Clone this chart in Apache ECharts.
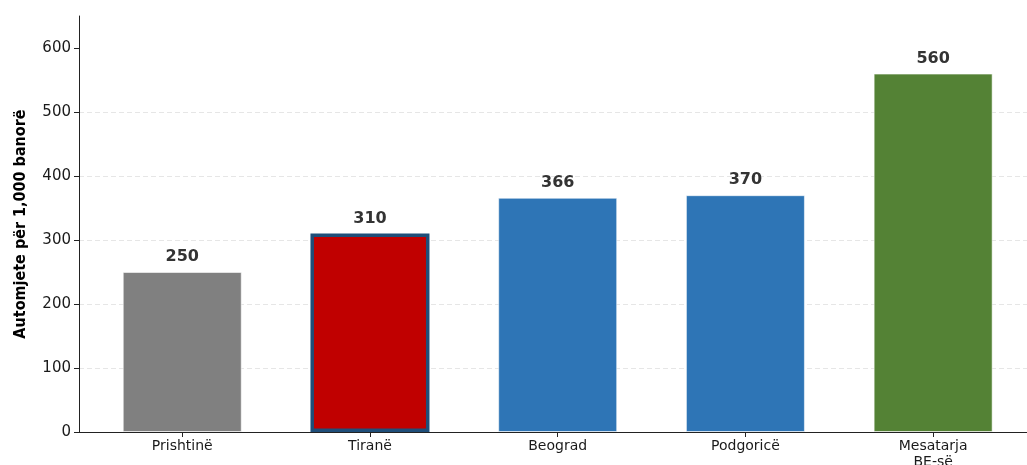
<!DOCTYPE html>
<html>
<head>
<meta charset="utf-8">
<script src="https://cdn.jsdelivr.net/npm/echarts@6/dist/echarts.min.js"></script>
<style>html,body{margin:0;padding:0;background:#fff}#c{width:1027px;height:465px}</style>
</head>
<body>
<div id="c"></div>
<script>
const categories = ['Prishtinë', 'Tiranë', 'Beograd', 'Podgoricë', 'Mesatarja\nBE-së'];
const values = [250, 310, 366, 370, 560];
const barColors = ['#808080', '#c00000', '#2e75b6', '#2e75b6', '#548235'];
const yTicks = [0, 100, 200, 300, 400, 500, 600];
const yTitle = 'Automjete për 1,000 banorë';

const chart = echarts.init(document.getElementById('c'));
const data = values.map((v, i) => ({
  value: [i, v],
  itemStyle: i === 1
    ? { color: barColors[i], borderColor: '#1f4e79', borderWidth: 3.5 }
    : { color: barColors[i], borderColor: 'rgba(255,255,255,0.55)', borderWidth: 1 }
}));
chart.setOption({
  animation: false,
  grid: { left: 79, right: 0, top: 16, bottom: 33, outerBoundsMode: 'none', containLabel: false },
  xAxis: {
    type: 'value', min: -0.55, max: 4.5,
    splitLine: { show: false },
    axisLine: { show: true, onZero: false, lineStyle: { color: '#222', width: 1 } },
    axisTick: { show: true, customValues: [0, 1, 2, 3, 4], length: 5, lineStyle: { color: '#222' } },
    axisLabel: {
      customValues: [0, 1, 2, 3, 4],
      formatter: v => categories[Math.round(v)] || '',
      fontFamily: 'DejaVu Sans', fontSize: 14, color: '#1a1a1a', margin: 6, lineHeight: 16
    }
  },
  yAxis: {
    type: 'value', min: 0, max: 650, interval: 100,
    name: yTitle, nameLocation: 'middle', nameGap: 50, nameRotate: 90,
    nameTextStyle: { fontFamily: "'DejaVu Sans Condensed', 'Liberation Sans Narrow', 'DejaVu Sans'", fontWeight: 'bold', fontSize: 16, color: '#000' },
    axisLine: { show: true, onZero: false, lineStyle: { color: '#222', width: 1 } },
    axisTick: { show: true, customValues: yTicks, length: 5, lineStyle: { color: '#222' } },
    axisLabel: { customValues: yTicks, fontFamily: 'DejaVu Sans', fontSize: 15, color: '#1a1a1a', margin: 8 },
    splitLine: { show: true, showMaxLine: false, showMinLine: false, lineStyle: { color: '#e6e6e6', type: [5, 3], width: 1 } }
  },
  series: [{
    type: 'bar',
    barWidth: 119,
    data: data,
    label: {
      show: true, position: 'top', distance: 7,
      formatter: p => p.value[1],
      fontFamily: 'DejaVu Sans', fontWeight: 'bold', fontSize: 16, color: '#333'
    }
  }]
});
</script>
</body>
</html>
